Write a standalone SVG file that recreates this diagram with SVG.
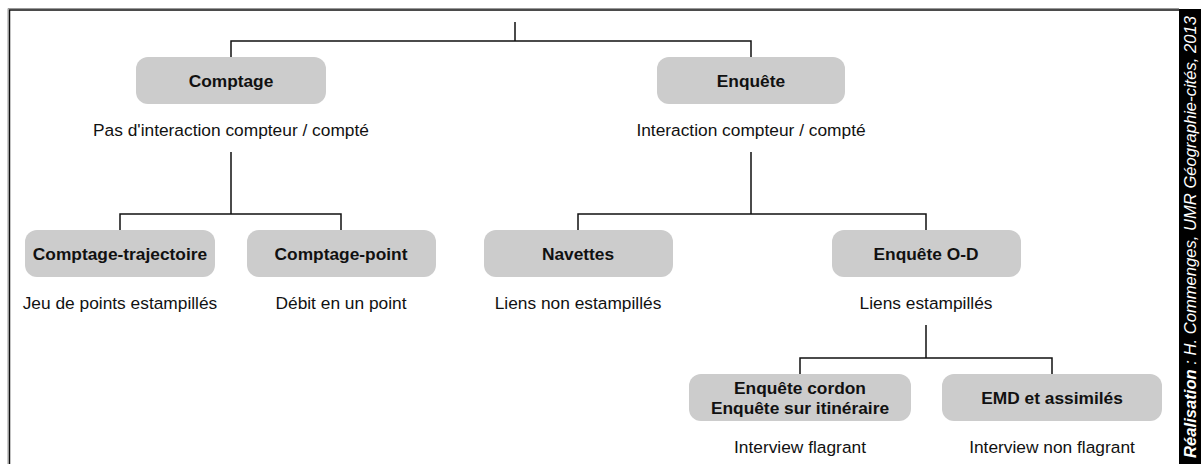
<svg xmlns="http://www.w3.org/2000/svg" width="1203" height="464" viewBox="0 0 1203 464">
<style>
.box{fill:#cccccc;stroke:none}
.t{font-family:"Liberation Sans",Arial,sans-serif;font-size:17.33px;fill:#111;text-anchor:middle}
.b{font-weight:bold}
.c{fill:none;stroke:#111;stroke-width:1.5}
</style>
<rect x="0" y="0" width="1203" height="464" fill="#ffffff"/>
<g id="frame">
<path d="M8,464 V8.5 H1179" fill="none" stroke="#999" stroke-width="1"/>
<path d="M9.5,464 V10 H1179" fill="none" stroke="#111" stroke-width="1.5"/>
<rect x="1179" y="9" width="22" height="455" fill="#000"/>
<text transform="translate(1196,237) rotate(-90)" style="font-family:'Liberation Sans',Arial,sans-serif;font-size:16.6px;font-style:italic;fill:#fff;text-anchor:middle"><tspan font-weight="bold">Réalisation</tspan> : H. Commenges, UMR Géographie-cités, 2013</text>
</g>
<g id="connectors">
<path class="c" d="M515,22 V41 M231,57 V41 H751 V57"/>
<path class="c" d="M231,152 V214 M120,230 V214 H341 V230"/>
<path class="c" d="M751,152 V214 M578,230 V214 H926 V230"/>
<path class="c" d="M926,325 V358 M800,374 V358 H1052 V374"/>
</g>
<g id="comptage">
<rect class="box" x="136" y="57" width="190" height="47" rx="12"/>
<text class="t b" x="231" y="87">Comptage</text>
<text class="t" x="231" y="136">Pas d'interaction compteur / compté</text>
</g>
<g id="enquete">
<rect class="box" x="657" y="57" width="188" height="47" rx="12"/>
<text class="t b" x="751" y="87">Enquête</text>
<text class="t" x="751" y="136">Interaction compteur / compté</text>
</g>
<g id="comptage-trajectoire">
<rect class="box" x="25" y="230" width="190" height="47" rx="12"/>
<text class="t b" x="120" y="260">Comptage-trajectoire</text>
<text class="t" x="120" y="309">Jeu de points estampillés</text>
</g>
<g id="comptage-point">
<rect class="box" x="247" y="230" width="189" height="47" rx="12"/>
<text class="t b" x="341" y="260">Comptage-point</text>
<text class="t" x="341" y="309">Débit en un point</text>
</g>
<g id="navettes">
<rect class="box" x="484" y="230" width="189" height="47" rx="12"/>
<text class="t b" x="578" y="260">Navettes</text>
<text class="t" x="578" y="309">Liens non estampillés</text>
</g>
<g id="enquete-od">
<rect class="box" x="832" y="230" width="189" height="47" rx="12"/>
<text class="t b" x="926" y="260">Enquête O-D</text>
<text class="t" x="926" y="309">Liens estampillés</text>
</g>
<g id="enquete-cordon">
<rect class="box" x="689" y="374" width="222" height="47" rx="12"/>
<text class="t b" x="800" y="394">Enquête cordon</text>
<text class="t b" x="800" y="414">Enquête sur itinéraire</text>
<text class="t" x="800" y="453">Interview flagrant</text>
</g>
<g id="emd">
<rect class="box" x="942" y="374" width="220" height="47" rx="12"/>
<text class="t b" x="1052" y="404">EMD et assimilés</text>
<text class="t" x="1052" y="453">Interview non flagrant</text>
</g>
</svg>
